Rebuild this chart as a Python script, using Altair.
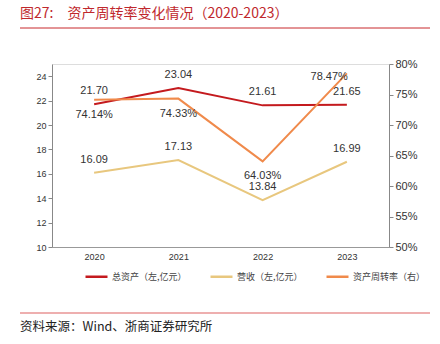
import altair as alt
import pandas as pd

years = ["2020", "2021", "2022", "2023"]
total_assets = [21.70, 23.04, 21.61, 21.65]
revenue = [16.09, 17.13, 13.84, 16.99]
turnover_pct = [74.14, 74.33, 64.03, 78.47]
series_names = ["总资产（左,亿元）", "营收（左,亿元）", "资产周转率（右）"]
colors = ["#C41A1E", "#E8C77E", "#F08A4B"]
left_ticks = [10, 12, 14, 16, 18, 20, 22, 24]
right_ticks = [0.50, 0.55, 0.60, 0.65, 0.70, 0.75, 0.80]
title_text = "图27:　资产周转率变化情况（2020-2023）"
source_text = "资料来源：Wind、浙商证券研究所"

W, H = 337, 183
FONT = "Liberation Sans"
CJK = "Noto Sans CJK SC"

left_df = pd.DataFrame({
    "year": years * 2,
    "value": total_assets + revenue,
    "series": [series_names[0]] * 4 + [series_names[1]] * 4,
    "label": [f"{v:.2f}" for v in total_assets + revenue],
})
right_df = pd.DataFrame({
    "year": years,
    "value": [t / 100 for t in turnover_pct],
    "series": [series_names[2]] * 4,
    "label": [f"{t:.2f}%" for t in turnover_pct],
})

xenc = alt.X("year:O", scale=alt.Scale(type="point", padding=0.5),
             axis=alt.Axis(title=None, labelAngle=0, ticks=False, domainColor="#999",
                           labelFontSize=9, labelColor="#333", labelFont=FONT, labelPadding=5))
color = alt.Color("series:N", scale=alt.Scale(domain=series_names, range=colors),
                  legend=alt.Legend(title=None, orient="none", direction="horizontal",
                                    legendX=32, legendY=200, symbolType="stroke",
                                    symbolSize=484, symbolStrokeWidth=2.5,
                                    labelFont=CJK, labelFontSize=9, labelColor="#444",
                                    columnPadding=18, labelOffset=3))

left_axis = alt.Axis(title=None, orient="left", values=left_ticks, grid=False, labelOverlap=False,
                     domainColor="#888", tickColor="#888", tickSize=4,
                     labelFontSize=9, labelColor="#333", labelFont=FONT)
right_axis = alt.Axis(title=None, orient="right", values=right_ticks, format=".0%", grid=False,
                      labelOverlap=False, domainColor="#888", tickColor="#888", tickSize=4,
                      labelFontSize=11, labelColor="#333", labelFont=FONT)
lscale = alt.Scale(domain=[10, 25], nice=False, zero=False)
rscale = alt.Scale(domain=[0.5, 0.8], nice=False, zero=False)
yl = alt.Y("value:Q", scale=lscale, axis=left_axis)
yr = alt.Y("value:Q", scale=rscale, axis=right_axis)

left_base = alt.Chart(left_df)
left_line = left_base.mark_line(strokeWidth=2).encode(x=xenc, y=yl, color=color)
left_text = left_base.mark_text(dy=-13, fontSize=11, color="#333", font=FONT, baseline="middle").encode(
    x=xenc, y=yl, text="label:N")
left = alt.layer(left_line, left_text)

right_base = alt.Chart(right_df)
right_line = right_base.mark_line(strokeWidth=2).encode(x=xenc, y=yr, color=color)
right_text_below = right_base.mark_text(dy=15, fontSize=11, color="#333", font=FONT, baseline="middle").encode(
    x=xenc, y=yr, text="label:N").transform_filter(alt.datum.year != "2023")
right_text_last = right_base.mark_text(dy=4, dx=1, align="right", fontSize=11, color="#333", font=FONT,
                                       baseline="middle").encode(
    x=xenc, y=yr, text="label:N").transform_filter(alt.datum.year == "2023")
right = alt.layer(right_line, right_text_below, right_text_last)

one = pd.DataFrame({"t": [title_text], "s": [source_text]})
deco_base = alt.Chart(one)
title_mark = deco_base.mark_text(align="left", baseline="middle", fontSize=14, color="#C0282D", font=CJK).encode(
    x=alt.value(-32), y=alt.value(-50), text="t:N")
top_rule = deco_base.mark_rule(color="#C8282D", strokeWidth=1).encode(
    x=alt.value(-32), x2=alt.value(378), y=alt.value(-36))
bottom_rule = deco_base.mark_rule(color="#E89494", strokeWidth=1.5).encode(
    x=alt.value(-32), x2=alt.value(378), y=alt.value(249))
source_mark = deco_base.mark_text(align="left", baseline="middle", fontSize=12.5, color="#222", font=CJK).encode(
    x=alt.value(-32), y=alt.value(263), text="s:N")

chart = alt.layer(left, right, title_mark, top_rule, bottom_rule, source_mark).resolve_scale(
    y="independent"
).properties(
    width=W, height=H,
    padding={"left": 52, "top": 64, "right": 51, "bottom": 97},
    autosize=alt.AutoSizeParams(type="none"),
).configure_view(stroke=None).configure(background="white")

chart.save("out.html", embed_options={"renderer": "svg", "actions": False})
